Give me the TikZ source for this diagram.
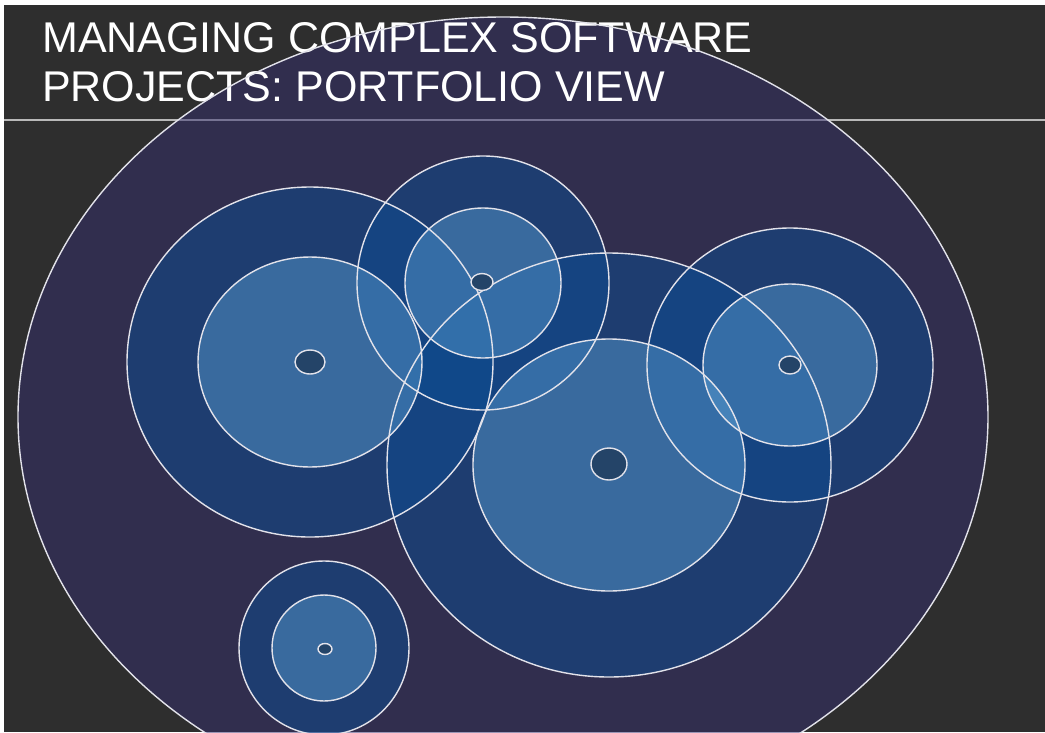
\documentclass[tikz,border=0pt]{standalone}
\usepackage{fontspec}
\setmainfont{Liberation Sans}
\usepackage{tikz}
\usetikzlibrary{positioning}
\definecolor{slate}{RGB}{46,46,46}
\definecolor{plumfill}{RGB}{52,46,110}
\definecolor{ringblue}{RGB}{13,76,146}
\definecolor{coreblue}{RGB}{85,151,204}
\definecolor{hubblue}{RGB}{36,68,104}
\definecolor{rimgray}{RGB}{226,226,234}
\tikzstyle{portfolio}=[fill=plumfill,fill opacity=0.5]
\tikzstyle{ring}=[fill=ringblue,fill opacity=0.5]
\tikzstyle{core}=[fill=coreblue,fill opacity=0.5]
\tikzstyle{hub}=[fill=hubblue]
\tikzstyle{rim}=[draw=rimgray,line width=1.4pt]
\tikzstyle{heading}=[text=white,inner sep=0pt,anchor=base west,font=\fontsize{43}{50}\selectfont]

\begin{document}
\begin{tikzpicture}[x=1pt,y=-1pt]
    \useasboundingbox (0,0) rectangle (1045,732);
    \fill [white] (0,0) rectangle (1045,732);
    \fill [slate] (4,5) rectangle (1045,732);
    \begin{scope}
      \clip (4,5) rectangle (1045,732);
      \draw [draw=gray!55,line width=2.4pt] (4,120) -- (1045,120);
      \path [portfolio] (503,417) ellipse [x radius=485pt,y radius=400pt];
      \node [heading] (line1) at (42,52) {MANAGING COMPLEX SOFTWARE};
      \node [heading] (line2) at (42,101) {PROJECTS: PORTFOLIO VIEW};
      \draw [rim] (503,417) ellipse [x radius=485pt,y radius=400pt];
      % outer rings
      \path [ring] (310,362) ellipse [x radius=183pt,y radius=175pt];
      \path [ring] (483,283) ellipse [x radius=126pt,y radius=127pt];
      \path [ring] (609,465) ellipse [x radius=222pt,y radius=212pt];
      \path [ring] (790,365) ellipse [x radius=143pt,y radius=137pt];
      \path [ring] (324,648) ellipse [x radius=85pt,y radius=87pt];
      % inner discs
      \path [core] (310,362) ellipse [x radius=112pt,y radius=105pt];
      \path [core] (483,283) ellipse [x radius=78pt,y radius=75pt];
      \path [core] (609,465) ellipse [x radius=136pt,y radius=126pt];
      \path [core] (790,365) ellipse [x radius=87pt,y radius=81pt];
      \path [core] (324,648) ellipse [x radius=52pt,y radius=53pt];
      % outlines
      \draw [rim] (310,362) ellipse [x radius=183pt,y radius=175pt];
      \draw [rim] (483,283) ellipse [x radius=126pt,y radius=127pt];
      \draw [rim] (609,465) ellipse [x radius=222pt,y radius=212pt];
      \draw [rim] (790,365) ellipse [x radius=143pt,y radius=137pt];
      \draw [rim] (324,648) ellipse [x radius=85pt,y radius=87pt];
      \draw [rim] (310,362) ellipse [x radius=112pt,y radius=105pt];
      \draw [rim] (483,283) ellipse [x radius=78pt,y radius=75pt];
      \draw [rim] (609,465) ellipse [x radius=136pt,y radius=126pt];
      \draw [rim] (790,365) ellipse [x radius=87pt,y radius=81pt];
      \draw [rim] (324,648) ellipse [x radius=52pt,y radius=53pt];
      % hubs
      \draw [hub,rim] (310,362) ellipse [x radius=15pt,y radius=12pt];
      \draw [hub,rim] (482,282) ellipse [x radius=11pt,y radius=8.5pt];
      \draw [hub,rim] (609,464) ellipse [x radius=18pt,y radius=16pt];
      \draw [hub,rim] (790,365) ellipse [x radius=11pt,y radius=9pt];
      \draw [hub,rim] (325,649) ellipse [x radius=7pt,y radius=5.5pt];
    \end{scope}
\end{tikzpicture}
\end{document}
